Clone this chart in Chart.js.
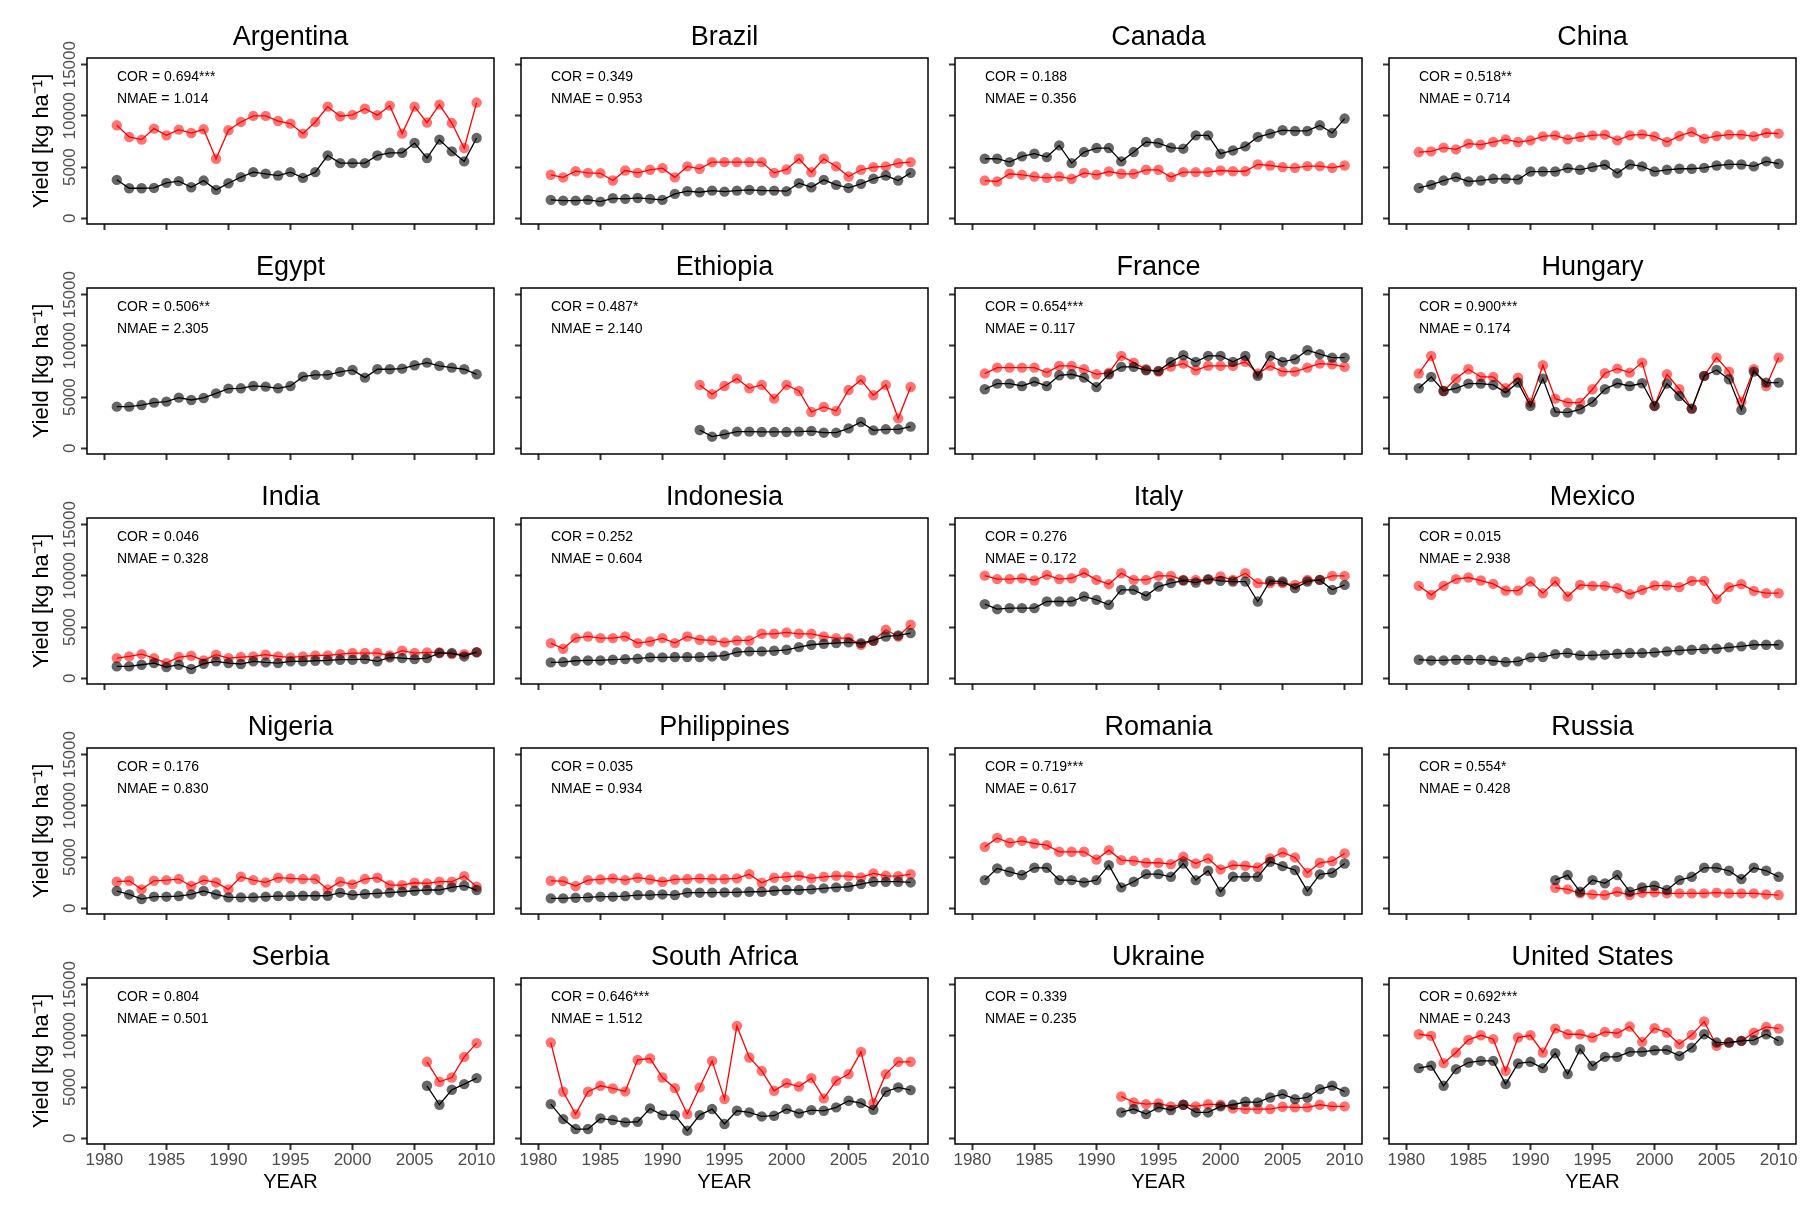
<!DOCTYPE html>
<html>
<head>
<meta charset="utf-8">
<script src="https://cdn.jsdelivr.net/npm/chart.js@4.4.0/dist/chart.umd.min.js"></script>
<style>
  html, body { margin: 0; padding: 0; background: #fff; overflow: hidden; }
  #wrap { position: relative; width: 1820px; height: 1212px; }
  #wrap canvas { position: absolute; }
</style>
</head>
<body>
<div id="wrap"></div>
<script>
// ---------------------------------------
// Yield panels: observed (black) vs simulated (red), 1981-2010
// ---------------------------------------

const years = [1981, 1982, 1983, 1984, 1985, 1986, 1987, 1988, 1989, 1990,
  1991, 1992, 1993, 1994, 1995, 1996, 1997, 1998, 1999, 2000,
  2001, 2002, 2003, 2004, 2005, 2006, 2007, 2008, 2009, 2010];
const xTicks = [1980, 1985, 1990, 1995, 2000, 2005, 2010];
const yTicks = [0, 5000, 10000, 15000];

const countries = ["Argentina", "Brazil", "Canada", "China",
  "Egypt", "Ethiopia", "France", "Hungary",
  "India", "Indonesia", "Italy", "Mexico",
  "Nigeria", "Philippines", "Romania", "Russia",
  "Serbia", "South Africa", "Ukraine", "United States"];
const corLabels = ["0.694***", "0.349", "0.188", "0.518**",
  "0.506**", "0.487*", "0.654***", "0.900***",
  "0.046", "0.252", "0.276", "0.015",
  "0.176", "0.035", "0.719***", "0.554*",
  "0.804", "0.646***", "0.339", "0.692***"];
const nmaeLabels = ["1.014", "0.953", "0.356", "0.714",
  "2.305", "2.140", "0.117", "0.174",
  "0.328", "0.604", "0.172", "2.938",
  "0.830", "0.934", "0.617", "0.428",
  "0.501", "1.512", "0.235", "0.243"];

const _ = null;

const argObs = [3760,2940,2940,2970,3460,3630,3040,3690,2780,3430,4020,4510,4350,4180,4510,3950,4510,6140,5390,5390,5390,6140,6400,6400,7350,5880,7680,6540,5560,7840];
const argSim = [9080,7940,7680,8760,8100,8660,8330,8690,5820,8600,9410,10000,10000,9500,9250,8270,9410,10900,9970,10100,10700,10070,11000,8270,10900,9350,11100,9300,6860,11300];

const braObs = [1800,1730,1730,1800,1630,1960,1900,1990,1900,1800,2390,2650,2550,2710,2610,2710,2780,2710,2710,2650,3430,3040,3760,3270,2970,3370,3860,4180,3690,4440];
const braSim = [4250,4000,4600,4440,4400,3700,4670,4440,4740,4900,4000,5070,4840,5490,5490,5490,5490,5490,4440,4770,5820,4500,5820,5070,4080,4740,5000,5070,5390,5490];

const canObs = [5820,5820,5490,6050,6310,5980,7120,5390,6470,6860,6860,5560,6470,7450,7350,6900,6800,8100,8100,6310,6630,7030,7940,8270,8600,8530,8530,9080,8330,9740];
const canSim = [3690,3600,4350,4250,4080,3950,4080,3860,4440,4250,4570,4350,4350,4740,4740,4020,4510,4510,4510,4670,4600,4600,5260,5160,5000,4930,5100,5100,4930,5160];

const chnObs = [2970,3270,3690,4020,3600,3690,3860,3860,3790,4570,4570,4570,4900,4740,5000,5230,4410,5260,5070,4570,4740,4840,4840,4930,5160,5260,5260,5070,5560,5330];
const chnSim = [6470,6540,6900,6730,7290,7190,7450,7710,7450,7610,8000,8100,7710,7940,8100,8170,7610,8100,8200,8000,7450,8040,8430,7780,8040,8170,8170,8000,8330,8270];

const egyObs = [4070,4070,4230,4460,4560,4950,4720,4920,5370,5830,5860,6090,6030,5860,6090,7000,7170,7170,7460,7650,6900,7720,7720,7780,8110,8370,8050,7880,7720,7230];
const egySim = [_,_,_,_,_,_,_,_,_,_,_,_,_,_,_,_,_,_,_,_,_,_,_,_,_,_,_,_,_,_];

const ethObs = [_,_,_,_,_,_,_,_,_,_,_,_,1790,1140,1370,1630,1630,1600,1600,1600,1630,1690,1530,1530,1950,2570,1760,1860,1860,2120];
const ethSim = [_,_,_,_,_,_,_,_,_,_,_,_,6190,5280,6090,6810,5860,6190,4850,6190,5600,3550,4040,3650,5700,6680,5180,6190,2930,5990];

const fraObs = [5770,6320,6320,6090,6510,6090,7130,7230,6900,5990,7230,7950,7950,7620,7560,8440,9090,8440,9020,9020,8440,9020,7070,9020,8440,8700,9580,9190,8860,8860];
const fraSim = [7300,7880,7880,7880,7880,7390,8050,8050,7720,7230,7390,9020,8370,7720,7490,7980,8270,7620,8050,8050,8050,8440,7300,8050,7490,7490,7880,8270,8200,7950];

const hunObs = [5860,6970,5600,5860,6320,6320,6190,5440,6420,4140,6810,3550,3490,3810,4530,5770,6350,6090,6350,4140,6320,5110,3880,7070,7650,6740,3750,7490,6420,6420];
const hunSim = [7300,9020,5600,6810,7720,6970,6970,5860,6900,4460,8110,4850,4460,4460,5770,7330,7780,7390,8370,4140,7230,5770,3880,7070,8860,7490,4560,7720,6090,8860];

const indObs = [1170,1170,1330,1490,1100,1330,910,1430,1660,1490,1400,1660,1560,1490,1660,1660,1720,1750,1820,1820,1880,1660,2050,1980,1880,1980,2470,2470,2140,2560];
const indSim = [1980,2140,2370,1980,1490,2080,2210,1750,2310,1980,2080,2140,2310,2140,2050,2140,2240,2240,2370,2470,2470,2470,2240,2700,2470,2530,2530,2370,2370,2530];

const idnObs = [1560,1590,1720,1750,1750,1820,1880,1920,2050,2050,2080,2080,2080,2140,2210,2560,2630,2630,2690,2790,3050,3280,3380,3440,3510,3440,3700,4090,4190,4420];
const idnSim = [3440,2890,3930,4090,3930,3930,4090,3440,3600,3930,3440,4090,3770,3700,3510,3700,3700,4350,4350,4480,4350,4350,4090,3930,3930,3280,3670,4740,4090,5230];

const itaObs = [7240,6750,6850,6850,6850,7500,7500,7500,7990,7660,7180,8640,8640,8050,8960,9290,9550,9350,9680,9510,9450,9450,7500,9510,9450,8800,9450,9610,8640,9120];
const itaSim = [10030,9680,9680,9770,9550,10100,9680,9770,10300,9610,9190,10260,9610,9610,10000,10000,9610,9610,9610,9940,9610,10260,9290,9290,9290,9120,9610,9610,10000,10000];

const mexObs = [1820,1750,1750,1820,1820,1820,1720,1590,1660,2050,2080,2370,2470,2240,2240,2310,2400,2470,2470,2530,2630,2730,2790,2860,2890,3020,3120,3280,3280,3280];
const mexSim = [9030,8150,9030,9680,9840,9550,9220,8570,8570,9450,8310,9450,7990,9120,9030,9030,8800,8210,8640,9060,9060,8900,9510,9510,7730,8900,9190,8540,8310,8310];

const nigObs = [1690,1360,910,1140,1140,1200,1360,1690,1360,1070,1070,1070,1140,1200,1200,1230,1230,1230,1530,1300,1400,1460,1530,1620,1720,1790,1790,2050,2210,1790];
const nigSim = [2600,2690,1850,2690,2760,2860,2180,2760,2530,1850,3080,2760,2530,2990,2920,2860,2860,1850,2600,2340,2860,2990,2270,2270,2500,2440,2600,2600,3150,2110];

const phlObs = [970,970,1040,1070,1140,1140,1200,1300,1300,1360,1300,1530,1530,1530,1560,1560,1620,1620,1720,1790,1790,1850,1950,2050,2110,2370,2600,2600,2600,2530];
const phlSim = [2690,2660,2180,2760,2820,2920,2760,2990,2820,2600,2820,2860,2920,2860,2860,2920,3340,2500,2990,3080,3180,2920,3080,3180,3150,3020,3410,3180,3150,3340];

const romObs = [2760,3900,3570,3250,3960,3960,2760,2760,2530,2760,4220,2050,2600,3340,3340,3080,4380,2760,3670,1620,3080,3080,3080,4550,4120,3730,1690,3310,3470,4380];
const romSim = [6000,6880,6400,6590,6330,6170,5520,5520,5520,4770,5680,4710,4640,4450,4450,4320,5030,4380,4870,3800,4220,4160,3990,4870,5450,4970,3470,4450,4610,5360];

const rusObs = [_,_,_,_,_,_,_,_,_,_,_,2760,3250,1620,2760,2440,3250,1620,2050,2210,1790,2760,3080,3960,3960,3670,2860,3960,3670,3080];
const rusSim = [_,_,_,_,_,_,_,_,_,_,_,2010,1850,1460,1360,1300,1620,1300,1530,1560,1460,1460,1460,1460,1530,1460,1460,1460,1360,1300];

const srbObs = [_,_,_,_,_,_,_,_,_,_,_,_,_,_,_,_,_,_,_,_,_,_,_,_,_,5130,3280,4740,5290,5880];
const srbSim = [_,_,_,_,_,_,_,_,_,_,_,_,_,_,_,_,_,_,_,_,_,_,_,_,_,7470,5520,5940,7950,9290];

const zafObs = [3340,1880,910,910,1950,1790,1560,1620,2920,2270,2270,750,2270,2860,1400,2690,2530,2140,2210,2860,2440,2760,2690,3020,3670,3440,2790,4550,4970,4710];
const zafSim = [9350,4550,2370,4550,5130,4870,4580,7660,7790,5940,4900,2370,4970,7560,3830,10970,7890,6590,4640,5390,5060,5880,3900,5620,6270,8440,3440,6270,7470,7470];

const ukrObs = [_,_,_,_,_,_,_,_,_,_,_,2530,2860,2370,3020,2760,3280,2530,2530,3120,3280,3570,3510,3990,4320,3830,3990,4810,5130,4550];
const ukrSim = [_,_,_,_,_,_,_,_,_,_,_,4090,3510,3340,3410,3120,3280,3120,3340,3280,2920,2860,2860,2860,3080,3020,3020,3280,3120,3120];

const usaObs = [6850,7080,5130,6750,7400,7560,7560,5290,7310,7470,6850,8310,6270,8700,7080,7950,7950,8440,8440,8600,8640,8050,8860,10160,9350,9350,9510,9580,10160,9510];
const usaSim = [10160,10000,7340,8380,9610,10060,9680,6590,9840,10060,8380,10710,10160,10160,9840,10390,10260,10910,9420,10750,10320,9190,10100,11400,9030,9350,9510,10320,10880,10710];

const obsSeries = [argObs, braObs, canObs, chnObs, egyObs, ethObs, fraObs, hunObs, indObs, idnObs,
  itaObs, mexObs, nigObs, phlObs, romObs, rusObs, srbObs, zafObs, ukrObs, usaObs];
const simSeries = [argSim, braSim, canSim, chnSim, egySim, ethSim, fraSim, hunSim, indSim, idnSim,
  itaSim, mexSim, nigSim, phlSim, romSim, rusSim, srbSim, zafSim, ukrSim, usaSim];

// layout (pixels)
const boxLeft = [87, 521, 955, 1389];
const boxTop = [58, 288, 518, 748, 978];
const SIDE = 87, TOP = 58, BOTTOM = 62;
const CW = 581, CH = 286;

const FONT = '"Liberation Sans", Arial, Helvetica, sans-serif';
Chart.defaults.font.family = FONT;

function points(arr) {
  return years.map((yr, i) => ({ x: yr, y: arr[i] })).filter(p => p.y !== null);
}

// box, COR / NMAE text, rotated y tick labels
const panelDecor = {
  id: "panelDecor",
  afterDraw(chart, args, opts) {
    const { ctx, chartArea: a, scales: { y } } = chart;
    ctx.save();
    ctx.strokeStyle = "#000";
    ctx.lineWidth = 1.5;
    ctx.strokeRect(a.left, a.top, a.right - a.left, a.bottom - a.top);

    ctx.fillStyle = "#000";
    ctx.font = "14px " + FONT;
    ctx.textAlign = "left";
    ctx.textBaseline = "middle";
    ctx.fillText("COR = " + opts.cor, a.left + 30, a.top + 19);
    ctx.fillText("NMAE = " + opts.nmae, a.left + 30, a.top + 41);

    if (opts.yLabels) {
      ctx.fillStyle = "#4d4d4d";
      ctx.font = "17px " + FONT;
      ctx.textAlign = "center";
      yTicks.forEach(v => {
        ctx.save();
        ctx.translate(a.left - 17, y.getPixelForValue(v));
        ctx.rotate(-Math.PI / 2);
        ctx.fillText(String(v), 0, 0);
        ctx.restore();
      });
    }
    ctx.restore();
  }
};

const wrap = document.getElementById("wrap");

countries.forEach((name, k) => {
  const r = Math.floor(k / 4), c = k % 4;
  const bottomRow = r === 4, leftCol = c === 0;

  const cv = document.createElement("canvas");
  cv.width = CW;
  cv.height = CH;
  cv.style.left = (boxLeft[c] - SIDE) + "px";
  cv.style.top = (boxTop[r] - TOP) + "px";
  wrap.appendChild(cv);

  new Chart(cv, {
    type: "line",
    data: {
      datasets: [{
        label: "observed",
        data: points(obsSeries[k]),
        borderColor: "#000",
        borderWidth: 1.3,
        backgroundColor: "rgba(0,0,0,0.6)",
        pointBackgroundColor: "rgba(0,0,0,0.6)",
        pointBorderWidth: 0,
        pointRadius: 5.2,
        tension: 0,
        order: 0,
        xAxisID: "x",
        yAxisID: "y"
      }, {
        label: "simulated",
        data: points(simSeries[k]),
        borderColor: "#ff0000",
        borderWidth: 1.3,
        backgroundColor: "rgba(255,0,0,0.55)",
        pointBackgroundColor: "rgba(255,0,0,0.55)",
        pointBorderWidth: 0,
        pointRadius: 5.2,
        tension: 0,
        order: 1,
        xAxisID: "x",
        yAxisID: "y"
      }]
    },
    options: {
      responsive: false,
      animation: false,
      events: [],
      layout: { padding: 0 },
      scales: {
        x: {
          type: "linear",
          position: "bottom",
          min: 1978.6,
          max: 2011.4,
          afterBuildTicks: s => { s.ticks = xTicks.map(v => ({ value: v })); },
          afterFit: s => { s.height = BOTTOM; },
          grid: { display: true, drawOnChartArea: false, drawTicks: true, tickLength: 6, tickWidth: 2, tickColor: "#333" },
          border: { display: false },
          ticks: {
            display: bottomRow,
            color: "#4d4d4d",
            font: { size: 17 },
            padding: 0,
            maxRotation: 0,
            autoSkip: false,
            callback: v => String(v)
          },
          title: {
            display: bottomRow,
            text: "YEAR",
            color: "#000",
            font: { size: 20 },
            padding: { top: 0, bottom: 12 }
          }
        },
        y: {
          type: "linear",
          position: "left",
          min: -550,
          max: 15650,
          afterBuildTicks: s => { s.ticks = yTicks.map(v => ({ value: v })); },
          afterFit: s => { s.width = SIDE; },
          grid: { display: true, drawOnChartArea: false, drawTicks: true, tickLength: 6, tickWidth: 2, tickColor: "#333" },
          border: { display: false },
          ticks: { display: false },
          title: {
            display: leftCol,
            text: "Yield [kg ha\u207B\u00B9]",
            color: "#000",
            font: { size: 22 },
            padding: { top: 29, bottom: 0 }
          }
        },
        yr: {
          type: "linear",
          position: "right",
          afterFit: s => { s.width = SIDE; },
          grid: { display: false },
          border: { display: false },
          ticks: { display: false }
        }
      },
      plugins: {
        legend: { display: false },
        tooltip: { enabled: false },
        title: {
          display: true,
          text: name,
          color: "#000",
          font: { size: 27, weight: "normal" },
          padding: { top: 21, bottom: 4.6 }
        },
        panelDecor: {
          cor: corLabels[k],
          nmae: nmaeLabels[k],
          yLabels: leftCol
        }
      }
    },
    plugins: [panelDecor]
  });
});
</script>
</body>
</html>
